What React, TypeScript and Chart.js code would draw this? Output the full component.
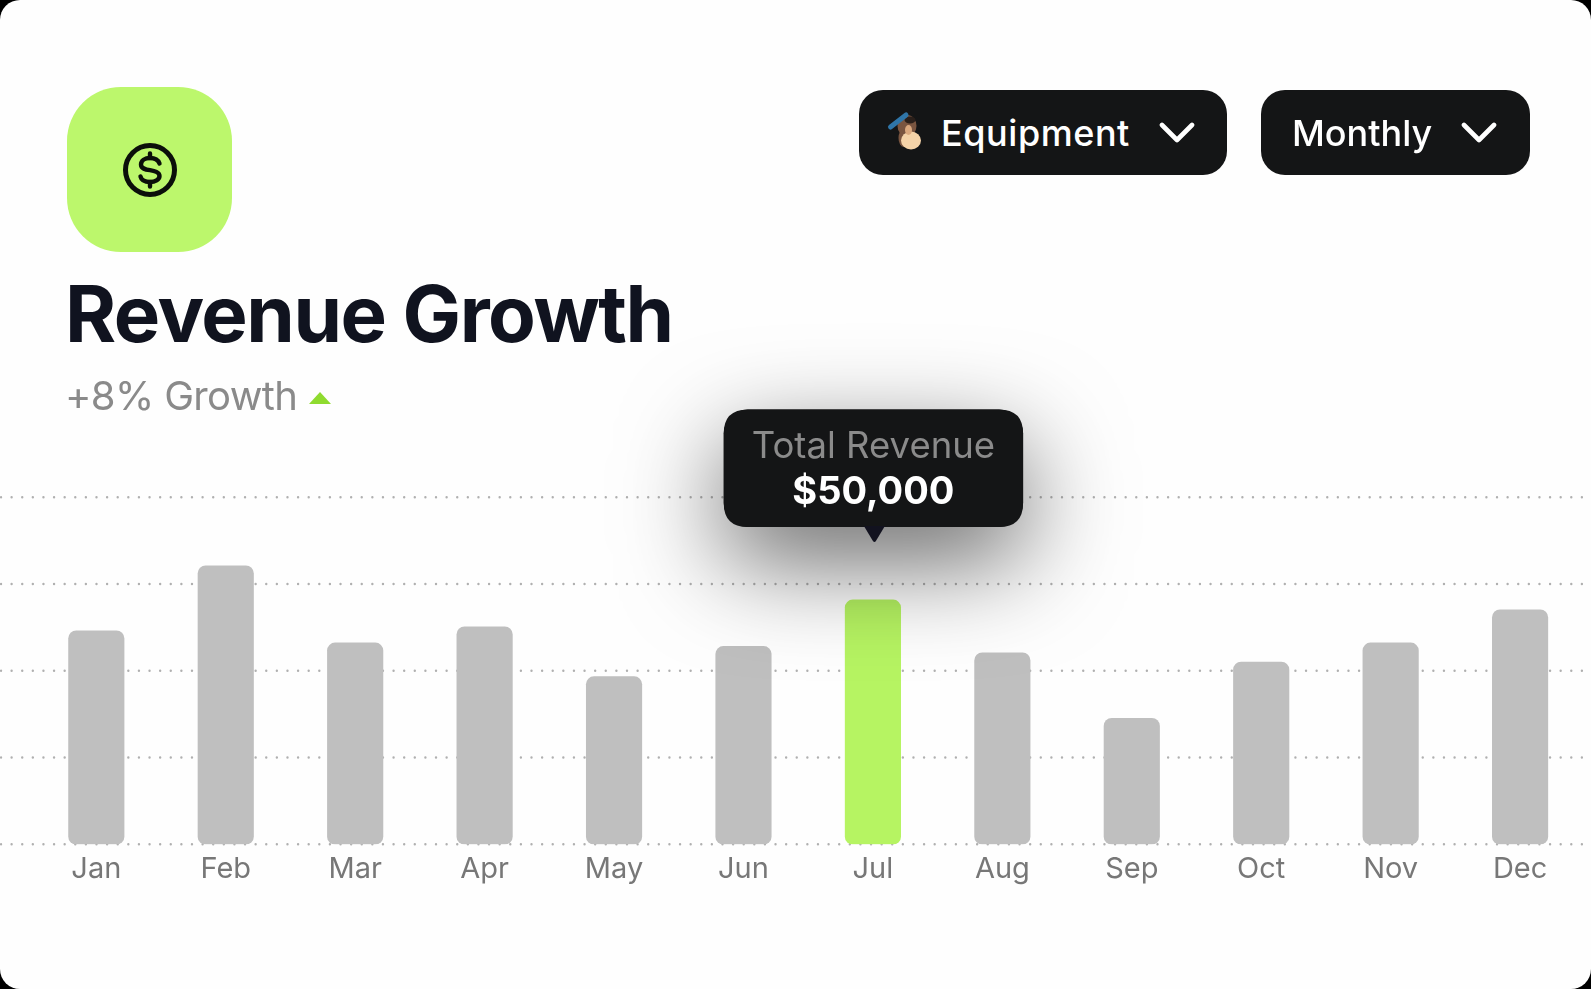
import React, { useEffect, useRef } from "react";
import { Chart, registerables, Tooltip } from "chart.js";

Chart.register(...registerables);

const months = ["Jan", "Feb", "Mar", "Apr", "May", "Jun", "Jul", "Aug", "Sep", "Oct", "Nov", "Dec"];
const revenue = [43700, 57000, 41200, 44500, 34300, 40500, 50000, 39200, 25800, 37300, 41200, 48000];
const highlightedMonth = "Jul";
const seriesName = "Total Revenue";
const gridStep = 17750;
const axisMax = 71000;

const FONT = "Inter, 'Noto Sans', sans-serif";
const DARK = "#141516";

function roundRect(ctx: CanvasRenderingContext2D, x: number, y: number, w: number, h: number, r: number) {
  ctx.beginPath();
  ctx.roundRect(x, y, w, h, r);
}

(Tooltip.positioners as any).aboveBar = function (items: any[]) {
  if (!items.length) return false;
  const el = items[0].element;
  return { x: el.x + 0.5, y: el.y - 73 };
};

const fullWidthGrid = {
  id: "fullWidthGrid",
  beforeDatasetsDraw(chart: any) {
    const { ctx, scales } = chart;
    ctx.save();
    ctx.strokeStyle = "#b0b0b0";
    ctx.lineWidth = 2.4;
    ctx.lineCap = "round";
    ctx.setLineDash([0.01, 10.6]);
    scales.y.ticks.forEach((t: any) => {
      const y = scales.y.getPixelForValue(t.value);
      ctx.beginPath();
      ctx.moveTo(1, y);
      ctx.lineTo(chart.width, y);
      ctx.stroke();
    });
    ctx.restore();
  },
};

const tooltipDecor = {
  id: "tooltipDecor",
  beforeTooltipDraw(chart: any, args: any) {
    const t = args.tooltip;
    const { ctx } = chart;
    ctx.save();
    ctx.shadowColor = "rgba(0,0,0,0.6)";
    ctx.shadowBlur = 100;
    ctx.shadowOffsetY = 34;
    ctx.fillStyle = DARK;
    roundRect(ctx, t.x, t.y, t.width, t.height, 24);
    ctx.fill();
    ctx.restore();
  },
  afterTooltipDraw(chart: any, args: any) {
    const t = args.tooltip;
    const { ctx } = chart;
    const bottom = t.y + t.height - 1;
    const cx = t.caretX + 1;
    ctx.save();
    ctx.fillStyle = "#12121f";
    ctx.beginPath();
    ctx.moveTo(cx - 10.5, bottom);
    ctx.lineTo(cx + 10.5, bottom);
    ctx.lineTo(cx + 1.5, bottom + 15);
    ctx.quadraticCurveTo(cx, bottom + 17, cx - 1.5, bottom + 15);
    ctx.closePath();
    ctx.fill();
    ctx.restore();
  },
};

function MonkeyIcon() {
  return (
    <svg width="60" height="60" viewBox="0 0 60 60" style={{ position: "absolute", left: 875, top: 100 }}>
      <ellipse cx="32" cy="26" rx="9.5" ry="11" fill="#7a5540" />
      <ellipse cx="35" cy="20" rx="5.5" ry="3.5" fill="#2a1f1a" />
      <ellipse cx="28.5" cy="38" rx="5" ry="9" fill="#7a5540" />
      <ellipse cx="36" cy="40.5" rx="10" ry="9" fill="#f5d3a8" />
      <ellipse cx="33.5" cy="30" rx="3.5" ry="5" fill="#dba97f" />
      <path d="M15.5 27 L31 15" stroke="#2f75a8" strokeWidth="5" strokeLinecap="round" />
    </svg>
  );
}

function Chevron({ left }: { left: number }) {
  return (
    <svg width="36" height="22" viewBox="0 0 36 22" style={{ position: "absolute", left, top: 122 }}>
      <path d="M3 3 L18 18 L33 3" fill="none" stroke="#fff" strokeWidth="4.6" strokeLinecap="round" strokeLinejoin="round" />
    </svg>
  );
}

export default function App() {
  const ref = useRef<HTMLCanvasElement | null>(null);

  useEffect(() => {
    if (!ref.current) return;
    const chart = new Chart(ref.current, {
      type: "bar",
      plugins: [fullWidthGrid, tooltipDecor],
      data: {
        labels: months,
        datasets: [
          {
            label: seriesName,
            data: revenue,
            backgroundColor: months.map((m) => (m === highlightedMonth ? "#b6f462" : "#bfbfbf")),
            borderRadius: 8,
            borderSkipped: false,
            barThickness: 55.5,
          },
        ],
      },
      options: {
        responsive: false,
        animation: false,
        events: [],
        layout: { padding: { left: 31.6, right: 6.2, top: 497.3, bottom: 84.7 } },
        scales: {
          x: {
            grid: { display: false },
            border: { display: false },
            afterFit: (s: any) => { s.height = 60; },
            ticks: {
              autoSkip: false,
              maxRotation: 0,
              padding: 0,
              color: "#777777",
              font: { family: FONT, size: 29, weight: "400" },
            },
          },
          y: {
            min: 0,
            max: axisMax,
            afterFit: (s: any) => { s.width = 0; },
            grid: { display: false },
            border: { display: false },
            ticks: { display: false, stepSize: gridStep },
          },
        },
        plugins: {
          legend: { display: false },
          title: { display: false },
          tooltip: {
            enabled: true,
            animation: false,
            position: "aboveBar" as any,
            xAlign: "center",
            yAlign: "bottom",
            caretSize: 0,
            caretPadding: 0,
            cornerRadius: 24,
            backgroundColor: DARK,
            displayColors: false,
            titleColor: "#8b8b8b",
            bodyColor: "#ffffff",
            titleAlign: "center",
            bodyAlign: "center",
            titleFont: { family: FONT, size: 36.5, weight: "400" },
            bodyFont: { family: FONT, size: 38, weight: "700" },
            titleMarginBottom: 0,
            padding: { left: 28, right: 28, top: 16, bottom: 12 },
            callbacks: {
              title: () => seriesName,
              label: (c: any) => "$" + Number(c.raw).toLocaleString("en-US"),
            },
          },
        },
      } as any,
    });
    const idx = months.indexOf(highlightedMonth);
    chart.tooltip!.setActiveElements([{ datasetIndex: 0, index: idx }], { x: 0, y: 0 });
    chart.update();
    return () => chart.destroy();
  }, []);

  const text = (s: React.CSSProperties): React.CSSProperties => ({
    position: "absolute",
    whiteSpace: "nowrap",
    fontFamily: FONT,
    lineHeight: 1,
    ...s,
  });
  const button: React.CSSProperties = { position: "absolute", top: 90, height: 85, background: DARK, borderRadius: 24 };

  return (
    <div style={{ position: "fixed", inset: 0, background: "#000", overflow: "hidden" }}>
      <div style={{ position: "absolute", left: 0, top: 0, width: 1591, height: 989, background: "#fefefe", borderRadius: 20 }} />
      <canvas ref={ref} width={1591} height={989} style={{ position: "absolute", left: 0, top: 0, width: 1591, height: 989 }} />

      <div style={{ position: "absolute", left: 67, top: 87, width: 165, height: 165, background: "#bcf76c", borderRadius: 54 }} />
      <svg width="60" height="60" viewBox="0 0 60 60" style={{ position: "absolute", left: 120, top: 140 }}>
        <circle cx="30" cy="30" r="24.5" fill="none" stroke="#0b0f0a" strokeWidth="5" />
        <path d="M39.5 23.5 C38 19.5 34 18 30 18 C25 18 21 20.5 21 24.5 C21 28.8 25.5 29.5 30 30.2 C34.5 31 39.5 32 39.5 36 C39.5 39.8 35 42 30 42 C25 42 21.3 40 20.5 36.5" fill="none" stroke="#0b0f0a" strokeWidth="4.4" strokeLinecap="round" />
        <path d="M30 13.5 V18 M30 42 V46.5" stroke="#0b0f0a" strokeWidth="4.4" strokeLinecap="round" />
      </svg>

      <div style={text({ left: 65, top: 275, fontSize: 78, fontWeight: 700, color: "#10131f", letterSpacing: -1.45 })}>Revenue Growth</div>
      <div style={text({ left: 65, top: 376, fontSize: 40, fontWeight: 400, color: "#8a8a8a", letterSpacing: -0.65 })}>+8% Growth</div>
      <svg width="24" height="14" viewBox="0 0 24 14" style={{ position: "absolute", left: 308, top: 391 }}>
        <path d="M1 13 L12 1 L23 13 Z" fill="#8fdb2f" />
      </svg>

      <div style={{ ...button, left: 859, width: 368 }} />
      <MonkeyIcon />
      <div style={text({ left: 941, top: 115, fontSize: 36, fontWeight: 500, color: "#fff", letterSpacing: 0.55 })}>Equipment</div>
      <Chevron left={1159} />
      <div style={{ ...button, left: 1261, width: 269 }} />
      <div style={text({ left: 1292, top: 115, fontSize: 36, fontWeight: 500, color: "#fff" })}>Monthly</div>
      <Chevron left={1461} />
    </div>
  );
}
